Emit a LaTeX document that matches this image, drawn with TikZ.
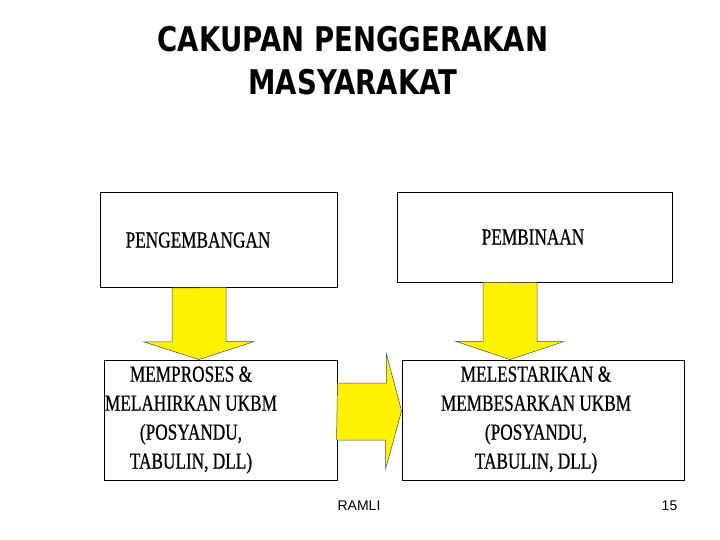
\documentclass[tikz,border=0pt]{standalone}
\usepackage{fontspec}
\setmainfont{Liberation Serif}
\newfontfamily\titlefont[FakeStretch=0.81]{DejaVu Sans}
\newfontfamily\bodyfont[FakeStretch=0.75,FakeBold=0.6]{Liberation Serif}
\newfontfamily\footfont{Liberation Sans}
\tikzset{
  box/.style={draw=black, line width=0.9pt, fill=white, inner sep=0pt},
  boxtext/.style={font=\bodyfont\fontsize{23}{29}\selectfont, align=center, text=black},
  blockarrow/.style={draw=black!70, line width=0.5pt, fill=yellow},
  foot/.style={font=\footfont\fontsize{14}{16}\selectfont, anchor=base, inner sep=0pt}
}
\begin{document}
\begin{tikzpicture}[x=1pt,y=-1pt]
\useasboundingbox (0,0) rectangle (720,540);
% title
\node[font=\titlefont\bfseries\fontsize{34}{43}\selectfont, align=center] (title) at (353,61) {CAKUPAN PENGGERAKAN\\MASYARAKAT};
% boxes
\node[box, minimum width=237pt, minimum height=95pt] (b1) at (218.5,240) {};
\node[box, minimum width=275pt, minimum height=90pt] (b2) at (534.5,237) {};
\node[box, minimum width=233pt, minimum height=120pt] (b3) at (220.5,420) {};
\node[box, minimum width=282pt, minimum height=120pt] (b4) at (543,420) {};
% box texts
\node[boxtext] (t1) at (198,240) {PENGEMBANGAN};
\node[boxtext] (t2) at (533,237) {PEMBINAAN};
\node[boxtext] (t3) at (191,420) {MEMPROSES \&\\MELAHIRKAN UKBM\\(POSYANDU,\\TABULIN, DLL)};
\node[boxtext] (t4) at (536,420) {MELESTARIKAN \&\\MEMBESARKAN UKBM\\(POSYANDU,\\TABULIN, DLL)};
% arrow anchors
\coordinate (s1) at (b1.south -| 199,0);
\coordinate (e1) at (b3.north -| 199,0);
\coordinate (s2) at (b2.south -| 510,0);
\coordinate (e2) at (b4.north -| 510,0);
\coordinate (s3) at (b3.east |- 0,411);
\coordinate (e3) at (b4.west |- 0,411);
% down arrow 1
\draw[blockarrow] (s1) ++(-27,0) -- ++(0,54) -- ++(-28,0) -- (e1) -- ++(55,-18) -- ++(-28,0) -- ++(0,-54) -- cycle;
% down arrow 2
\draw[blockarrow] (s2) ++(-27,0) -- ++(0,59) -- ++(-27,0) -- (e2) -- ++(54,-18) -- ++(-27,0) -- ++(0,-59) -- cycle;
% right arrow
\draw[blockarrow] (s3) ++(0,-28) -- ++(49,0) -- ++(0,-29) -- (e3) -- ++(-16,58) -- ++(0,-29) -- ++(-49,0) -- cycle;
% footer
\node[foot] (f1) at (359,510) {RAMLI};
\node[foot] (f2) at (669.5,510) {15};
\end{tikzpicture}
\end{document}
